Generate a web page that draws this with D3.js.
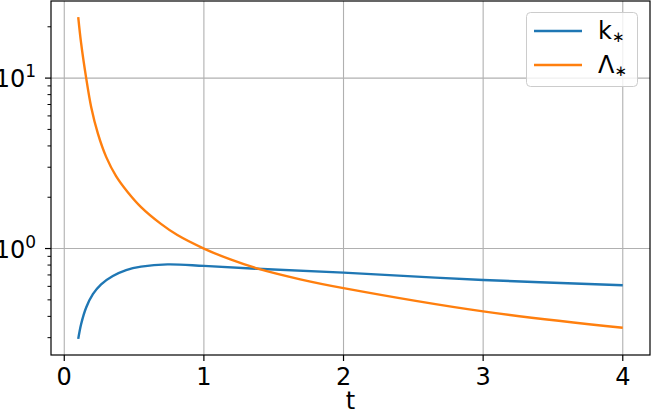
<!DOCTYPE html>
<html>
<head>
  <meta charset="utf-8">
  <script src="https://cdn.jsdelivr.net/npm/d3@7"></script>
  <style>
body { margin: 0; background: #fff; }
svg { font-family: "DejaVu Sans", sans-serif; }
.grid line { stroke: #b0b0b0; stroke-width: 1.1px; }
  </style>
</head>
<body>
  <svg width="651" height="414"></svg>
  <script>

// values
const tK = [0.1, 0.121, 0.157, 0.205, 0.264, 0.348, 0.443, 0.55, 0.74, 1.0, 1.38, 2.0, 3.0, 4.0];
const kStar = [0.295, 0.361, 0.451, 0.540, 0.617, 0.690, 0.748, 0.783, 0.807, 0.791, 0.761, 0.722, 0.654, 0.609];

const tL = [0.1, 0.12, 0.157, 0.193, 0.241, 0.3, 0.371, 0.455, 0.55, 0.69, 0.81, 1.0, 1.19, 1.38, 1.69, 2.0, 3.0, 4.0];
const lambdaStar = [22.8, 16.2, 10.0, 6.75, 4.72, 3.45, 2.66, 2.14, 1.75, 1.40, 1.20, 1.0, 0.863, 0.765, 0.660, 0.586, 0.428, 0.343];

const xTicks = [0, 1, 2, 3, 4];
const yMajor = [1, 10];
const yMinor = [0.3, 0.4, 0.5, 0.6, 0.7, 0.8, 0.9, 2, 3, 4, 5, 6, 7, 8, 9, 20];

const series = [
  {name: "k", t: tK, v: kStar, color: "#1f77b4"},
  {name: "Λ", t: tL, v: lambdaStar, color: "#ff7f0e"}
];

const margin = {left: 51, right: 1, top: 1, bottom: 59};
const svg = d3.select("svg"),
      width = +svg.attr("width"),
      height = +svg.attr("height");

// matplotlib-like 5% margins
const xMin = 0.1, xMax = 4.0, xPad = (xMax - xMin) * 0.05;
const x = d3.scaleLinear()
            .domain([xMin - xPad, xMax + xPad])
            .range([margin.left, width - margin.right]);

const allV = kStar.concat(lambdaStar);
const lo = Math.log10(d3.min(allV)), hi = Math.log10(d3.max(allV)), lPad = (hi - lo) * 0.05;
const y = d3.scaleLog()
            .domain([Math.pow(10, lo - lPad), Math.pow(10, hi + lPad)])
            .range([height - margin.bottom, margin.top]);

const x0 = margin.left, x1 = width - margin.right,
      y0 = height - margin.bottom, y1 = margin.top;

// grid
const grid = svg.append("g").attr("class", "grid");
grid.selectAll(".gx").data(xTicks).enter().append("line")
    .attr("x1", d => x(d)).attr("x2", d => x(d))
    .attr("y1", y1).attr("y2", y0);
grid.selectAll(".gy").data(yMajor).enter().append("line")
    .attr("x1", x0).attr("x2", x1)
    .attr("y1", d => y(d)).attr("y2", d => y(d));

// lines
const line = d3.line().curve(d3.curveCatmullRom.alpha(0.5));
svg.append("g").selectAll("path")
   .data(series).enter().append("path")
   .attr("fill", "none")
   .attr("stroke", d => d.color)
   .attr("stroke-width", 2.4)
   .attr("d", d => line(d.t.map((t, i) => [x(t), y(d.v[i])])));

// axes frame
svg.append("rect")
   .attr("x", x0).attr("y", y1)
   .attr("width", x1 - x0).attr("height", y0 - y1)
   .attr("fill", "none").attr("stroke", "#000").attr("stroke-width", 1.2);

// x ticks
const xg = svg.append("g");
xg.selectAll("line").data(xTicks).enter().append("line")
  .attr("x1", d => x(d)).attr("x2", d => x(d))
  .attr("y1", y0).attr("y2", y0 + 6)
  .attr("stroke", "#000").attr("stroke-width", 1.2);
xg.selectAll("text").data(xTicks).enter().append("text")
  .attr("x", d => x(d)).attr("y", y0 + 30)
  .attr("text-anchor", "middle")
  .attr("font-size", 24)
  .text(d => d);

svg.append("text")
   .attr("x", (x0 + x1) / 2).attr("y", 409)
   .attr("text-anchor", "middle")
   .attr("font-size", 24)
   .text("t");

// y ticks
const yg = svg.append("g");
yg.selectAll(".maj").data(yMajor).enter().append("line")
  .attr("x1", x0 - 6).attr("x2", x0)
  .attr("y1", d => y(d)).attr("y2", d => y(d))
  .attr("stroke", "#000").attr("stroke-width", 1.2);
yg.selectAll(".min").data(yMinor).enter().append("line")
  .attr("x1", x0 - 3.5).attr("x2", x0)
  .attr("y1", d => y(d)).attr("y2", d => y(d))
  .attr("stroke", "#000").attr("stroke-width", 1);

const yl = yg.selectAll("text").data(yMajor).enter().append("text")
  .attr("x", 36).attr("y", d => y(d) + 9)
  .attr("text-anchor", "end")
  .attr("font-size", 24);
yl.append("tspan").text("10");
yl.append("tspan").attr("font-size", 17).attr("dy", -10)
  .text(d => Math.round(Math.log10(d)));

// legend
const lg = svg.append("g");
lg.append("rect")
  .attr("x", 526.5).attr("y", 12.5)
  .attr("width", 111).attr("height", 74)
  .attr("rx", 4)
  .attr("fill", "#fff").attr("fill-opacity", 0.8)
  .attr("stroke", "#cccccc").attr("stroke-width", 1);
const items = lg.selectAll(".item").data(series).enter().append("g")
  .attr("transform", (d, i) => `translate(0,${31 + i * 34})`);
items.append("line")
  .attr("x1", 534).attr("x2", 582)
  .attr("stroke", d => d.color).attr("stroke-width", 2.4);
const lt = items.append("text")
  .attr("x", 598).attr("y", 8)
  .attr("font-size", 24);
lt.append("tspan").text(d => d.name);
lt.append("tspan").attr("font-size", 15).attr("dy", 3).text("∗");

</script>
</body>
</html>
